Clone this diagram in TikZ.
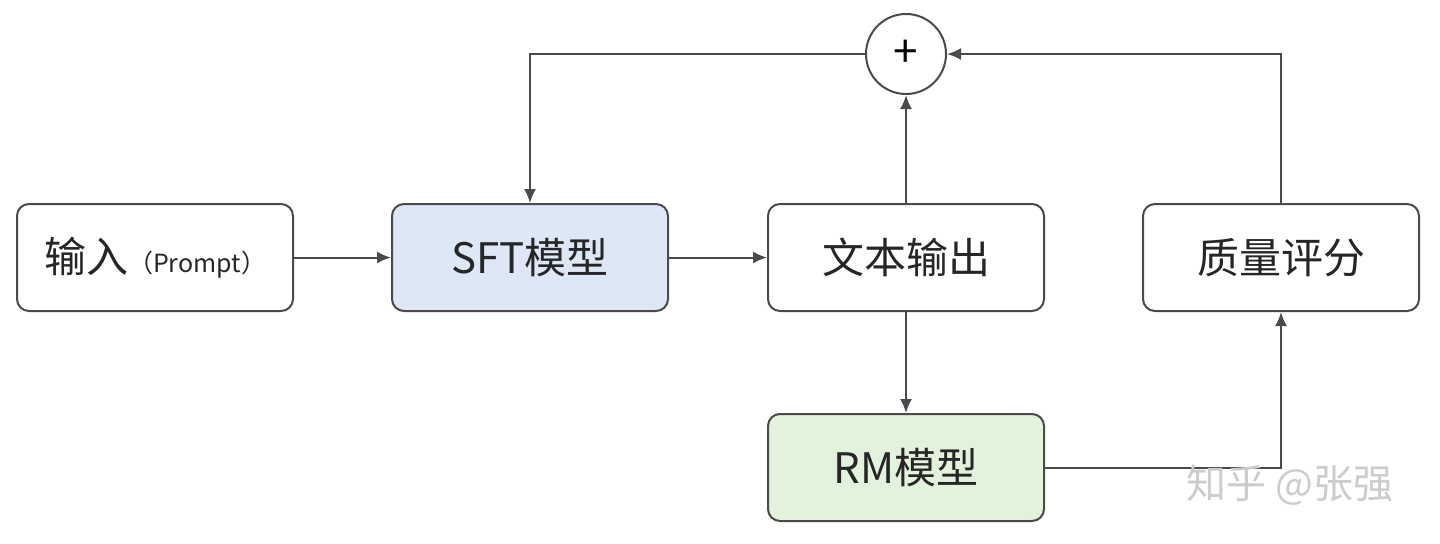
\documentclass[tikz,border=0pt]{standalone}
\usepackage{fontspec}
\setmainfont{Noto Sans CJK SC}
\usetikzlibrary{arrows.meta}
\definecolor{ln}{HTML}{4A4A4A}
\definecolor{sft}{HTML}{DEE7F6}
\definecolor{rm}{HTML}{E3F2DD}
\begin{document}
\begin{tikzpicture}[x=0.5pt,y=-0.5pt,
  box/.style={draw=ln,line width=1pt,rounded corners=6pt,minimum width=138pt,minimum height=53.5pt,inner sep=0pt,font=\fontsize{21}{23}\selectfont,text=black!85},
  arr/.style={draw=ln,line width=1pt,-{Latex[length=7pt,width=6pt]}}]
\useasboundingbox (0,0) rectangle (1440,543);
\node[box] (in) at (155,257.5) {输入{\fontsize{12.5}{14}\selectfont（Prompt）}};
\node[box,fill=sft] (sft) at (530,257.5) {SFT模型};
\node[box] (out) at (906,257.5) {文本输出};
\node[box] (q) at (1281,257.5) {质量评分};
\node[box,fill=rm] (rm) at (906,467.5) {RM模型};
\node[draw=ln,line width=1pt,circle,minimum size=40pt,inner sep=0pt,font=\fontsize{22}{22}\selectfont] (p) at (906,54) {+};
\draw[arr] (in) -- (sft);
\draw[arr] (sft) -- (out);
\draw[arr] (out) -- (p);
\draw[arr] (out) -- (rm);
\draw[arr] (rm.east) -| (q.south);
\draw[arr] (q.north) |- (p.east);
\draw[arr] (p.west) -| (sft.north);
\node[text=gray!40,font=\fontsize{20}{22}\selectfont] (wm) at (1290,485) {知乎 @张强};
\end{tikzpicture}
\end{document}
